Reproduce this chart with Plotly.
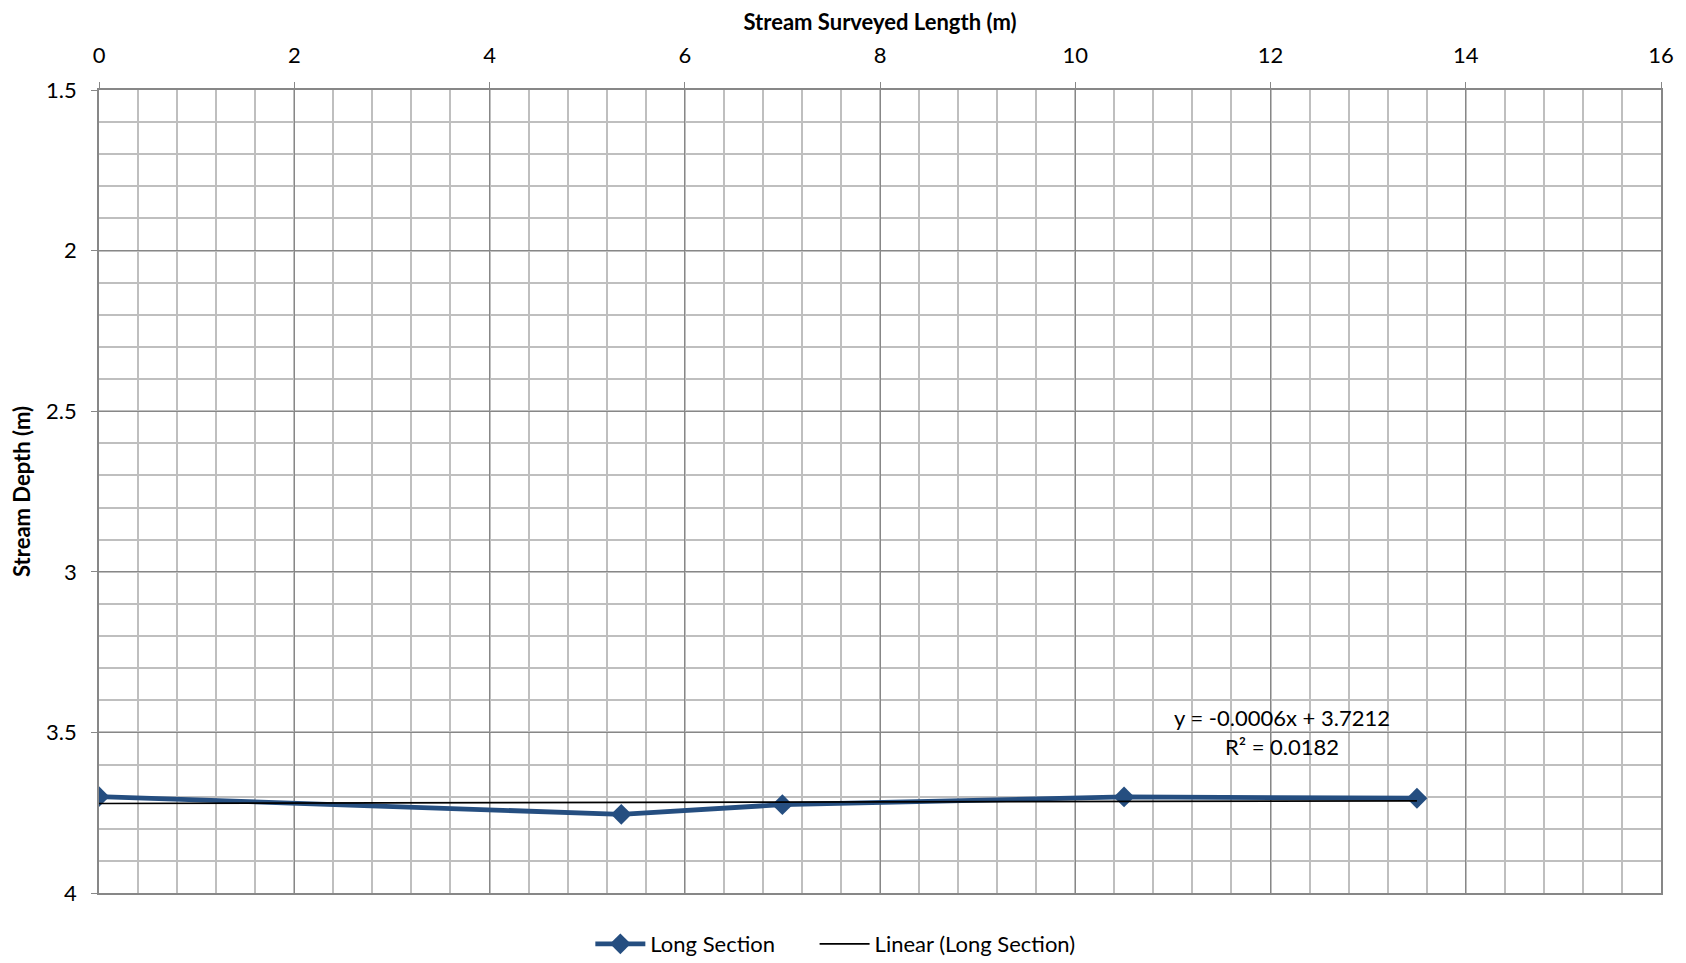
import numpy as np
import plotly.graph_objects as go

# Data
length_m = [0, 5.35, 7.0, 10.5, 13.5]
depth_m = [3.700, 3.755, 3.725, 3.701, 3.705]

x_ticks = [0, 2, 4, 6, 8, 10, 12, 14, 16]
y_ticks = [1.5, 2, 2.5, 3, 3.5, 4]
y_tick_labels = ["1.5", "2", "2.5", "3", "3.5", "4"]

trend_slope = -0.0006
trend_intercept = 3.7212
trend_text = "y = -0.0006x + 3.7212<br>R² = 0.0182"

series_color = "#254E80"
major_grid = "#878787"
minor_grid = "#BFBFBF"
font_family = "Lato, 'Open Sans', sans-serif"

trend_x = [min(length_m), max(length_m)]
trend_y = [trend_slope * v + trend_intercept for v in trend_x]

fig = go.Figure()
fig.add_trace(go.Scatter(
    x=length_m, y=depth_m, mode="lines+markers", name="Long Section",
    line=dict(color=series_color, width=4.8),
    marker=dict(symbol="diamond", size=16, color=series_color),
    legend="legend",
))
fig.add_trace(go.Scatter(
    x=trend_x, y=trend_y, mode="lines", name="Linear (Long Section)",
    line=dict(color="black", width=1.6),
    legend="legend2",
))

fig.add_annotation(
    x=12.12, y=3.5, xref="x", yref="y", text=trend_text, showarrow=False,
    align="center", font=dict(family=font_family, size=22, color="black"),
)

fig.update_xaxes(
    side="top", range=[0, 16], tickvals=x_ticks, ticktext=[str(v) for v in x_ticks],
    showgrid=True, gridcolor=major_grid, gridwidth=1.4,
    minor=dict(dtick=0.4, showgrid=True, gridcolor=minor_grid, gridwidth=1.6),
    ticks="outside", ticklen=6, tickcolor=major_grid, tickwidth=1.4,
    ticklabelstandoff=10,
    showline=True, linecolor=major_grid, linewidth=1.6, mirror=True,
    zeroline=False,
    tickfont=dict(family=font_family, size=22, color="black"),
    title=dict(text="<b>Stream Surveyed Length (m)</b>", standoff=12,
               font=dict(family=font_family, size=22, color="black")),
)
fig.update_yaxes(
    range=[4, 1.5], tickvals=y_ticks, ticktext=y_tick_labels,
    showgrid=True, gridcolor=major_grid, gridwidth=1.4,
    minor=dict(dtick=0.1, showgrid=True, gridcolor=minor_grid, gridwidth=1.6),
    ticks="outside", ticklen=6, tickcolor=major_grid, tickwidth=1.4,
    ticklabelstandoff=10,
    showline=True, linecolor=major_grid, linewidth=1.6, mirror=True,
    zeroline=False,
    tickfont=dict(family=font_family, size=22, color="black"),
    title=dict(text="<b>Stream Depth (m)</b>", standoff=12,
               font=dict(family=font_family, size=22, color="black")),
)

legend_style = dict(orientation="h", xref="container", yref="container",
                    y=0.028, yanchor="middle", xanchor="left",
                    font=dict(family=font_family, size=22, color="black"),
                    itemwidth=50, bgcolor="rgba(0,0,0,0)")

fig.update_layout(
    width=1686, height=963,
    margin=dict(l=91, r=33, t=82, b=78, autoexpand=False),
    paper_bgcolor="white", plot_bgcolor="white",
    legend=dict(x=0.3454, **legend_style),
    legend2=dict(x=0.4784, **legend_style),
    showlegend=True,
)

fig.write_html("out.html")
